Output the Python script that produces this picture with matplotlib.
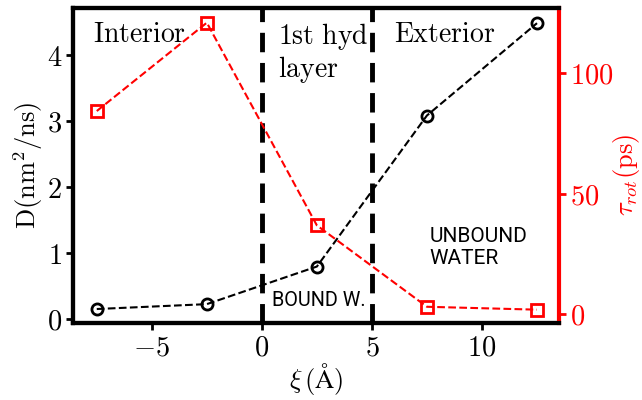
import matplotlib
matplotlib.use("Agg")
import matplotlib.pyplot as plt
from matplotlib.ticker import FuncFormatter

plt.rcParams['mathtext.fontset'] = 'cm'
plt.rcParams['font.family'] = 'serif'
plt.rcParams['font.serif'] = ['DejaVu Serif']

xi = [-7.5, -2.5, 2.5, 7.5, 12.5]
D = [0.156, 0.23, 0.80, 3.09, 4.49]
tau = [84.3, 121.0, 36.8, 3.0, 1.8]
boundaries = [0, 5]
xticks = [-5, 0, 5, 10]
dticks = [0, 1, 2, 3, 4]
tticks = [0, 50, 100]

fig = plt.figure(figsize=(6.42, 4.0), dpi=100)
ax = fig.add_axes([73/642, 1-323/400, (559-73)/642, (323-8)/400])
ax2 = ax.twinx()

ax.plot(xi, D, 'k--', marker='o', ms=8, mfc='none', mew=2, lw=1.5, zorder=3)
ax2.plot(xi, tau, '--', color='red', marker='s', ms=9, mfc='none', mew=2, lw=1.5, zorder=3)
for b in boundaries:
    ax.axvline(b, color='k', lw=3.5, ls=(0, (4, 2.2)), zorder=2)

ax.set_xlim(-8.58, 13.5)
ax.set_ylim(-0.056, 4.72)
ax2.set_ylim(-3.74, 127.1)
ax.set_xticks(xticks)
ax.set_yticks(dticks)
ax2.set_yticks(tticks)
fmt = FuncFormatter(lambda v, p: r'$%d$' % round(v))
ax.xaxis.set_major_formatter(fmt)
ax.yaxis.set_major_formatter(fmt)
ax2.yaxis.set_major_formatter(fmt)

for s in ['left', 'bottom', 'top']:
    ax.spines[s].set_linewidth(3)
    ax2.spines[s].set_linewidth(3)
ax2.spines['right'].set_linewidth(3)
ax2.spines['right'].set_color('red')
ax.spines['right'].set_visible(False)

ax.tick_params(axis='both', direction='out', length=5, width=2, labelsize=20.5, pad=3)
ax2.tick_params(axis='y', direction='out', length=5, width=2, labelsize=20.5, colors='red', pad=3)

ax.set_ylabel(r'$\mathrm{D(nm^2/ns)}$', fontsize=19, va='center')
ax.yaxis.set_label_coords(-0.093, 0.5)
ax2.set_ylabel(r'$\tau_{rot}\mathrm{(ps)}$', fontsize=19, color='red', va='center')
ax2.yaxis.set_label_coords(1.138, 0.47)
ax.set_xlabel(r'$\xi\,(\mathrm{\AA})$', fontsize=19, va='center')
ax.xaxis.set_label_coords(0.5, -0.178)

ax.text(-7.67, 4.52, r'$\mathrm{Interior}$', fontsize=20, va='top', ha='left')
ax.text(0.72, 4.52, r'$\mathrm{1st\ hyd}$', fontsize=20, va='top', ha='left')
ax.text(0.72, 4.03, r'$\mathrm{layer}$', fontsize=20, va='top', ha='left')
ax.text(6.0, 4.52, r'$\mathrm{Exterior}$', fontsize=20, va='top', ha='left')
ax.text(0.45, 0.28, 'BOUND W.', family='Roboto', fontsize=14.3, va='center', ha='left')
ax.text(7.6, 1.4, 'UNBOUND\nWATER', family='Roboto', fontsize=15, va='top', ha='left', linespacing=1.2)

fig.savefig('out.png', dpi=100)
